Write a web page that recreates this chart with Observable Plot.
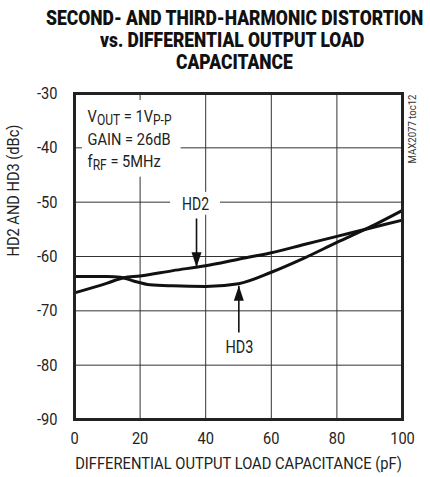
<!DOCTYPE html>
<html><head><meta charset="utf-8">
<script src="https://cdn.jsdelivr.net/npm/d3@7"></script>
<script src="https://cdn.jsdelivr.net/npm/@observablehq/plot@0.6"></script>
<style>
body{margin:0;background:#fff;}
#title{width:430px;height:80px;position:relative;font-family:Roboto,sans-serif;font-weight:900;font-size:20px;line-height:20px;color:#111;}
#title div{position:absolute;white-space:nowrap;transform-origin:0 50%;}
</style></head><body>
<div id="title"><div data-c="234" data-w="377" style="top:8px">SECOND- AND THIRD-HARMONIC DISTORTION</div><div data-c="232" data-w="264" style="top:30px">vs. DIFFERENTIAL OUTPUT LOAD</div><div data-c="234" data-w="117" style="top:52px">CAPACITANCE</div></div>
<div id="chart"></div>
<script>
const hd2X = [0, 10, 15, 20, 30, 40, 50, 60, 70, 80, 90, 100];
const hd2Y = [-66.7, -64.9, -63.9, -63.6, -62.6, -61.7, -60.5, -59.3, -57.8, -56.3, -54.8, -53.3];
const hd3X = [0, 5, 10, 14, 18, 23, 30, 40, 50, 60, 70, 80, 90, 100];
const hd3Y = [-63.7, -63.7, -63.7, -63.8, -64.5, -65.2, -65.4, -65.5, -65.0, -62.9, -60.3, -57.4, -54.6, -51.5];
const xTicks = [0, 20, 40, 60, 80, 100];
const yTicks = [-30, -40, -50, -60, -70, -80, -90];
const xTitle = "DIFFERENTIAL OUTPUT LOAD CAPACITANCE (pF)";
const yTitle = "HD2 AND HD3 (dBc)";
const labels = [{text: "HD2", x: 36.9, y: -50.3}, {text: "HD3", x: 50.3, y: -76.7}];
const arrows = [{x: 37.2, y1: -53.0, y2: -62.0, dir: "down"}, {x: 50.1, y1: -74.0, y2: -65.4, dir: "up"}];
const maskBoxes = [{x1: 2.4, x2: 32.5, y1: -31.3, y2: -45.4}, {x1: 29.3, x2: 44.5, y1: -48.2, y2: -52.4}];
const noteLines = ["VOUT = 1VP-P", "GAIN = 26dB", "fRF = 5MHz"];
const noteY = [-34.3, -38.4, -42.6];

const hd2 = hd2X.map((x, i) => ({x, y: hd2Y[i]}));
const hd3 = hd3X.map((x, i) => ({x, y: hd3Y[i]}));
const notes = noteLines.map((t, i) => ({t, x: 4.0, y: noteY[i]}));

const triDown = {draw(ctx) { ctx.moveTo(0, 0); ctx.lineTo(-5, -15); ctx.lineTo(5, -15); ctx.closePath(); }};
const triUp = {draw(ctx) { ctx.moveTo(0, 0); ctx.lineTo(-5, 15); ctx.lineTo(5, 15); ctx.closePath(); }};

const chart = Plot.plot({
  width: 430, height: 397,
  marginLeft: 74, marginRight: 28, marginTop: 13, marginBottom: 58,
  style: {fontSize: "17px", fontFamily: "Roboto, sans-serif", color: "#222", background: "white"},
  x: {domain: [0, 100], ticks: xTicks, tickSize: 0, tickPadding: 12, tickFormat: d => `${d}`, label: null},
  y: {domain: [-90, -30], ticks: yTicks, tickSize: 0, tickPadding: 17, tickFormat: d => `${d}`, label: null},
  marks: [
    Plot.gridX(xTicks, {stroke: "#333", strokeOpacity: 1, strokeWidth: 1}),
    Plot.gridY(yTicks, {stroke: "#333", strokeOpacity: 1, strokeWidth: 1}),
    Plot.rect(maskBoxes, {x1: "x1", x2: "x2", y1: "y1", y2: "y2", fill: "white"}),
    Plot.line(hd2, {x: "x", y: "y", stroke: "#111", strokeWidth: 3, curve: "monotone-x"}),
    Plot.line(hd3, {x: "x", y: "y", stroke: "#111", strokeWidth: 3, curve: "monotone-x"}),
    Plot.link(arrows, {x1: "x", x2: "x", y1: "y1", y2: "y2", stroke: "#111", strokeWidth: 1.6}),
    Plot.dot(arrows.filter(d => d.dir === "down"), {x: "x", y: "y2", symbol: triDown, fill: "#111", stroke: "none"}),
    Plot.dot(arrows.filter(d => d.dir === "up"), {x: "x", y: "y2", symbol: triUp, fill: "#111", stroke: "none"}),
    Plot.text(labels, {x: "x", y: "y", text: "text", fontSize: 18, fill: "#222"}),
    Plot.text(notes, {x: "x", y: "y", text: "t", textAnchor: "start", fontSize: 17, fill: "#222"}),
    Plot.text(["MAX2077 toc12"], {frameAnchor: "top-right", dx: 6, dy: 1, rotate: -90, textAnchor: "end", fontSize: 10, fill: "#333"}),
    Plot.text([xTitle], {frameAnchor: "bottom", dy: 49, fontSize: 16, fill: "#222"}),
    Plot.text([yTitle], {frameAnchor: "left", dx: -61, rotate: -90, fontSize: 17, fill: "#222"}),
    Plot.frame({stroke: "#222", strokeWidth: 3})
  ]
});
document.getElementById("chart").appendChild(chart);

// subscripts in the note
const sub = {"VOUT = 1VP-P": [["V", ""], ["OUT", "s"], [" = 1V", "n"], ["P-P", "s"]], "fRF = 5MHz": [["f", ""], ["RF", "s"], [" = 5MHz", "n"]]};
d3.select(chart).selectAll("text").each(function() {
  const t = this.textContent;
  if (sub[t]) {
    const el = d3.select(this);
    el.text(null);
    for (const [s, k] of sub[t]) {
      const ts = el.append("tspan").text(s);
      if (k === "s") ts.attr("font-size", 14).attr("dy", "0.22em");
      else if (k === "n") ts.attr("dy", "-0.22em");
    }
  }
});
// condensed look: squeeze glyphs horizontally (x only) around each text's anchor
const explicit = {[xTitle]: 327, "HD2": 27, "HD3": 28, "MAX2077 toc12": 69};
d3.select(chart).selectAll("text").each(function() {
  const t = this.textContent;
  const len = this.getComputedTextLength();
  if (!len) return;
  const s = explicit[t] ? explicit[t] / len : 0.86;
  const xa = this.getAttribute("x");
  let x = 0;
  if (xa != null) {
    const fs = parseFloat(getComputedStyle(this).fontSize) || 16;
    x = /em$/.test(xa) ? parseFloat(xa) * fs : parseFloat(xa) || 0;
    this.removeAttribute("x");
  }
  const tr = this.getAttribute("transform") || "";
  this.setAttribute("transform", `${tr} translate(${x},0) scale(${s},1)`);
});
// title lines: condensed widths, centred
document.querySelectorAll("#title div").forEach(el => {
  const w = el.offsetWidth, tw = +el.dataset.w, c = +el.dataset.c;
  el.style.left = (c - tw / 2) + "px";
  el.style.transform = `scaleX(${tw / w})`;
});
</script>
</body></html>
